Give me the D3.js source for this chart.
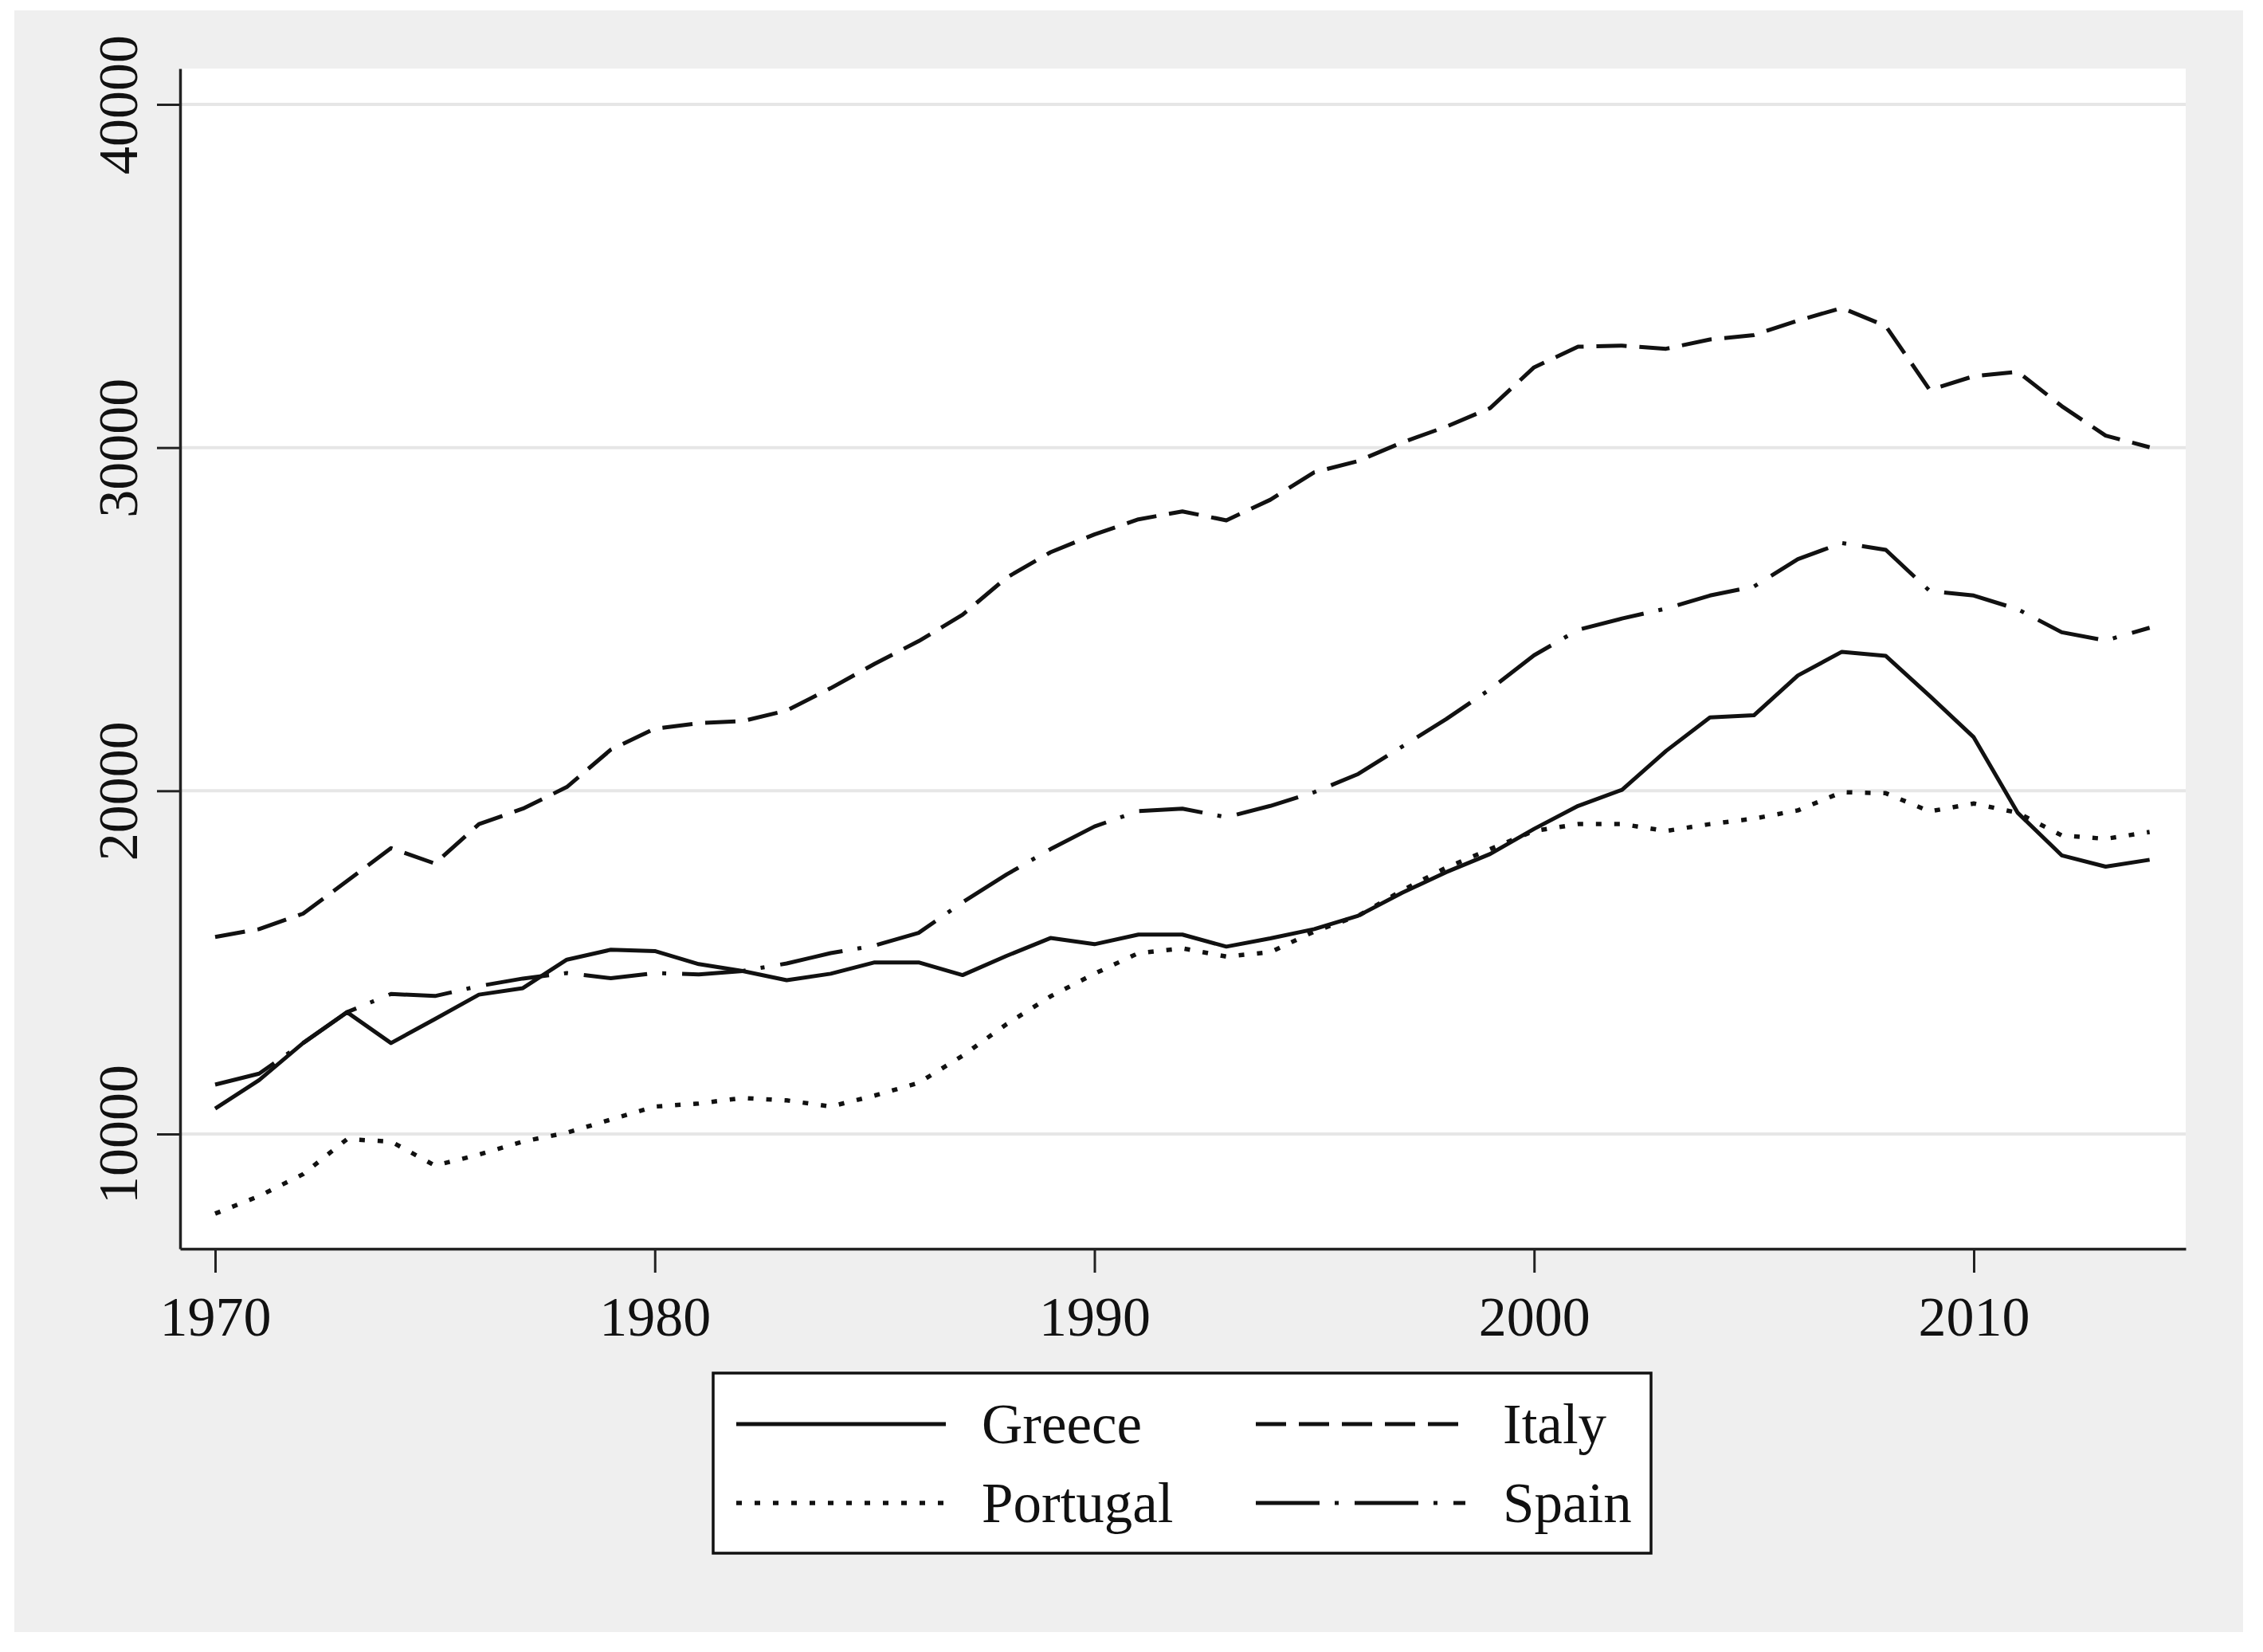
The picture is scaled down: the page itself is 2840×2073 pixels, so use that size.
<!DOCTYPE html>
<html>
<head>
<meta charset="utf-8">
<script src="https://cdn.jsdelivr.net/npm/d3@7"></script>
<style>
  body { margin: 0; background: #ffffff; }
  svg text { font-family: "Liberation Serif", "Times New Roman", serif; fill: #111; }
</style>
</head>
<body>
<div id="chart"></div>
<script>
// data (GDP per capita, 1970-2014)
const years = d3.range(1970, 2015);

const greece = [10740, 11570, 12650, 13550, 12650, 13350, 14060, 14250, 15080, 15370,
  15330, 14950, 14750, 14480, 14670, 15000, 15000, 14630, 15190, 15710,
  15530, 15810, 15810, 15460, 15700, 15970, 16360, 17030, 17630, 18160,
  18890, 19560, 20030, 21160, 22140, 22200, 23360, 24050, 23930, 22760,
  21560, 19360, 18120, 17790, 17990];

const italy = [15740, 15970, 16420, 17370, 18330, 17880, 19030, 19480, 20110, 21200,
  21810, 21970, 22030, 22340, 22990, 23700, 24360, 25130, 26210, 26950,
  27470, 27910, 28140, 27880, 28480, 29280, 29610, 30150, 30610, 31150,
  32340, 32940, 32970, 32880, 33150, 33280, 33700, 34070, 33540, 31680,
  32080, 32210, 31210, 30350, 30010];

const portugal = [7680, 8190, 8830, 9850, 9780, 9080, 9400, 9780, 10040, 10420,
  10800, 10890, 11050, 10980, 10800, 11120, 11490, 12280, 13200, 14010,
  14670, 15270, 15410, 15170, 15300, 15900, 16360, 17100, 17760, 18300,
  18830, 19030, 19030, 18830, 19030, 19190, 19430, 19960, 19930, 19400,
  19630, 19360, 18700, 18600, 18800];

const spain = [11440, 11760, 12650, 13550, 14080, 14020, 14310, 14530, 14690, 14540,
  14690, 14650, 14750, 14970, 15270, 15490, 15860, 16750, 17560, 18300,
  18960, 19410, 19480, 19230, 19560, 19960, 20490, 21290, 22090, 22960,
  23950, 24690, 25020, 25310, 25690, 25950, 26750, 27220, 27020, 25820,
  25690, 25290, 24620, 24380, 24750];

const yTicks = [10000, 20000, 30000, 40000];
const xTicks = [1970, 1980, 1990, 2000, 2010];

const seriesNames = ["Greece", "Italy", "Portugal", "Spain"];
const seriesValues = [greece, italy, portugal, spain];
// stata-like line patterns
const dashes = ["none", "38,16", "7,16", "80,19,5,20"];
const widths = [5, 5, 5.5, 5];

let width = 2840;
let height = 2073;

var plot = { left: 226, right: 2743, top: 86, bottom: 1567 };

var svg = d3.select('#chart')
  .append('svg')
  .attr('width', width)
  .attr('height', height);

// outer grey panel
svg.append('rect')
  .attr('x', 18).attr('y', 13)
  .attr('width', 2797).attr('height', 2035)
  .attr('fill', '#efefef');

svg.append('rect')
  .attr('x', plot.left).attr('y', plot.top)
  .attr('width', plot.right - plot.left)
  .attr('height', plot.bottom - plot.top)
  .attr('fill', '#ffffff');

// scales anchored on the tick positions, then stretched over the plot box
var x_ref = d3.scaleLinear().domain([1970, 2010]).range([270, 2477]);
var y_ref = d3.scaleLinear().domain([10000, 40000]).range([1423, 131]);

var x_scale = d3.scaleLinear()
  .domain([x_ref.invert(plot.left), x_ref.invert(plot.right)])
  .range([plot.left, plot.right]);

var y_scale = d3.scaleLinear()
  .domain([y_ref.invert(plot.bottom), y_ref.invert(plot.top)])
  .range([plot.bottom, plot.top]);

// gridlines
svg.append('g')
  .selectAll('line')
  .data(yTicks)
  .join('line')
  .attr('x1', plot.left).attr('x2', plot.right)
  .attr('y1', d => y_scale(d)).attr('y2', d => y_scale(d))
  .attr('stroke', '#e6e6e6')
  .attr('stroke-width', 4);

// lines
var line = d3.line()
  .x((d, i) => x_scale(years[i]))
  .y(d => y_scale(d));

svg.append('g')
  .selectAll('path')
  .data(seriesValues)
  .join('path')
  .attr('d', d => line(d))
  .attr('fill', 'none')
  .attr('stroke', '#111')
  .attr('stroke-width', (d, i) => widths[i])
  .attr('stroke-linejoin', 'round')
  .attr('stroke-dasharray', (d, i) => dashes[i]);

// axes
var y_axis = d3.axisLeft(y_scale)
  .tickValues(yTicks)
  .tickSize(29)
  .tickSizeOuter(0)
  .tickPadding(0)
  .tickFormat(d3.format('d'));

var x_axis = d3.axisBottom(x_scale)
  .tickValues(xTicks)
  .tickSize(30)
  .tickSizeOuter(0)
  .tickFormat(d3.format('d'));

var gy = svg.append('g')
  .attr('transform', 'translate(' + plot.left + ',0)')
  .call(y_axis);

gy.select('.domain').attr('stroke', '#222').attr('stroke-width', 3.5);
gy.selectAll('.tick line').attr('stroke', '#222').attr('stroke-width', 3);
gy.selectAll('.tick text')
  .attr('transform', 'rotate(-90)')
  .attr('x', 0)
  .attr('y', -54)
  .attr('dy', 0)
  .attr('text-anchor', 'middle')
  .attr('font-size', 70)
  .attr('font-family', '"Liberation Serif", serif')
  .attr('fill', '#111');

var gx = svg.append('g')
  .attr('transform', 'translate(0,' + plot.bottom + ')')
  .call(x_axis);

gx.select('.domain').attr('stroke', '#222').attr('stroke-width', 3.5);
gx.selectAll('.tick line').attr('stroke', '#222').attr('stroke-width', 3);
gx.selectAll('.tick text')
  .attr('y', 109)
  .attr('dy', 0)
  .attr('font-size', 70)
  .attr('font-family', '"Liberation Serif", serif')
  .attr('fill', '#111');

// legend
var legend = svg.append('g');

legend.append('rect')
  .attr('x', 895).attr('y', 1723)
  .attr('width', 1177).attr('height', 226)
  .attr('fill', '#ffffff')
  .attr('stroke', '#111')
  .attr('stroke-width', 3.5);

var legendPos = [
  { lx: 924, tx: 1232, y: 1787 },
  { lx: 1576, tx: 1886, y: 1787 },
  { lx: 924, tx: 1232, y: 1886 },
  { lx: 1576, tx: 1886, y: 1886 }
];

var items = legend.selectAll('g.item')
  .data(seriesNames)
  .join('g')
  .attr('class', 'item');

items.append('line')
  .attr('x1', (d, i) => legendPos[i].lx)
  .attr('x2', (d, i) => legendPos[i].lx + 263)
  .attr('y1', (d, i) => legendPos[i].y)
  .attr('y2', (d, i) => legendPos[i].y)
  .attr('stroke', '#111')
  .attr('stroke-width', (d, i) => widths[i])
  .attr('stroke-dasharray', (d, i) => dashes[i]);

items.append('text')
  .attr('x', (d, i) => legendPos[i].tx)
  .attr('y', (d, i) => legendPos[i].y + 24)
  .attr('font-size', 71)
  .text(d => d);
</script>
</body>
</html>
